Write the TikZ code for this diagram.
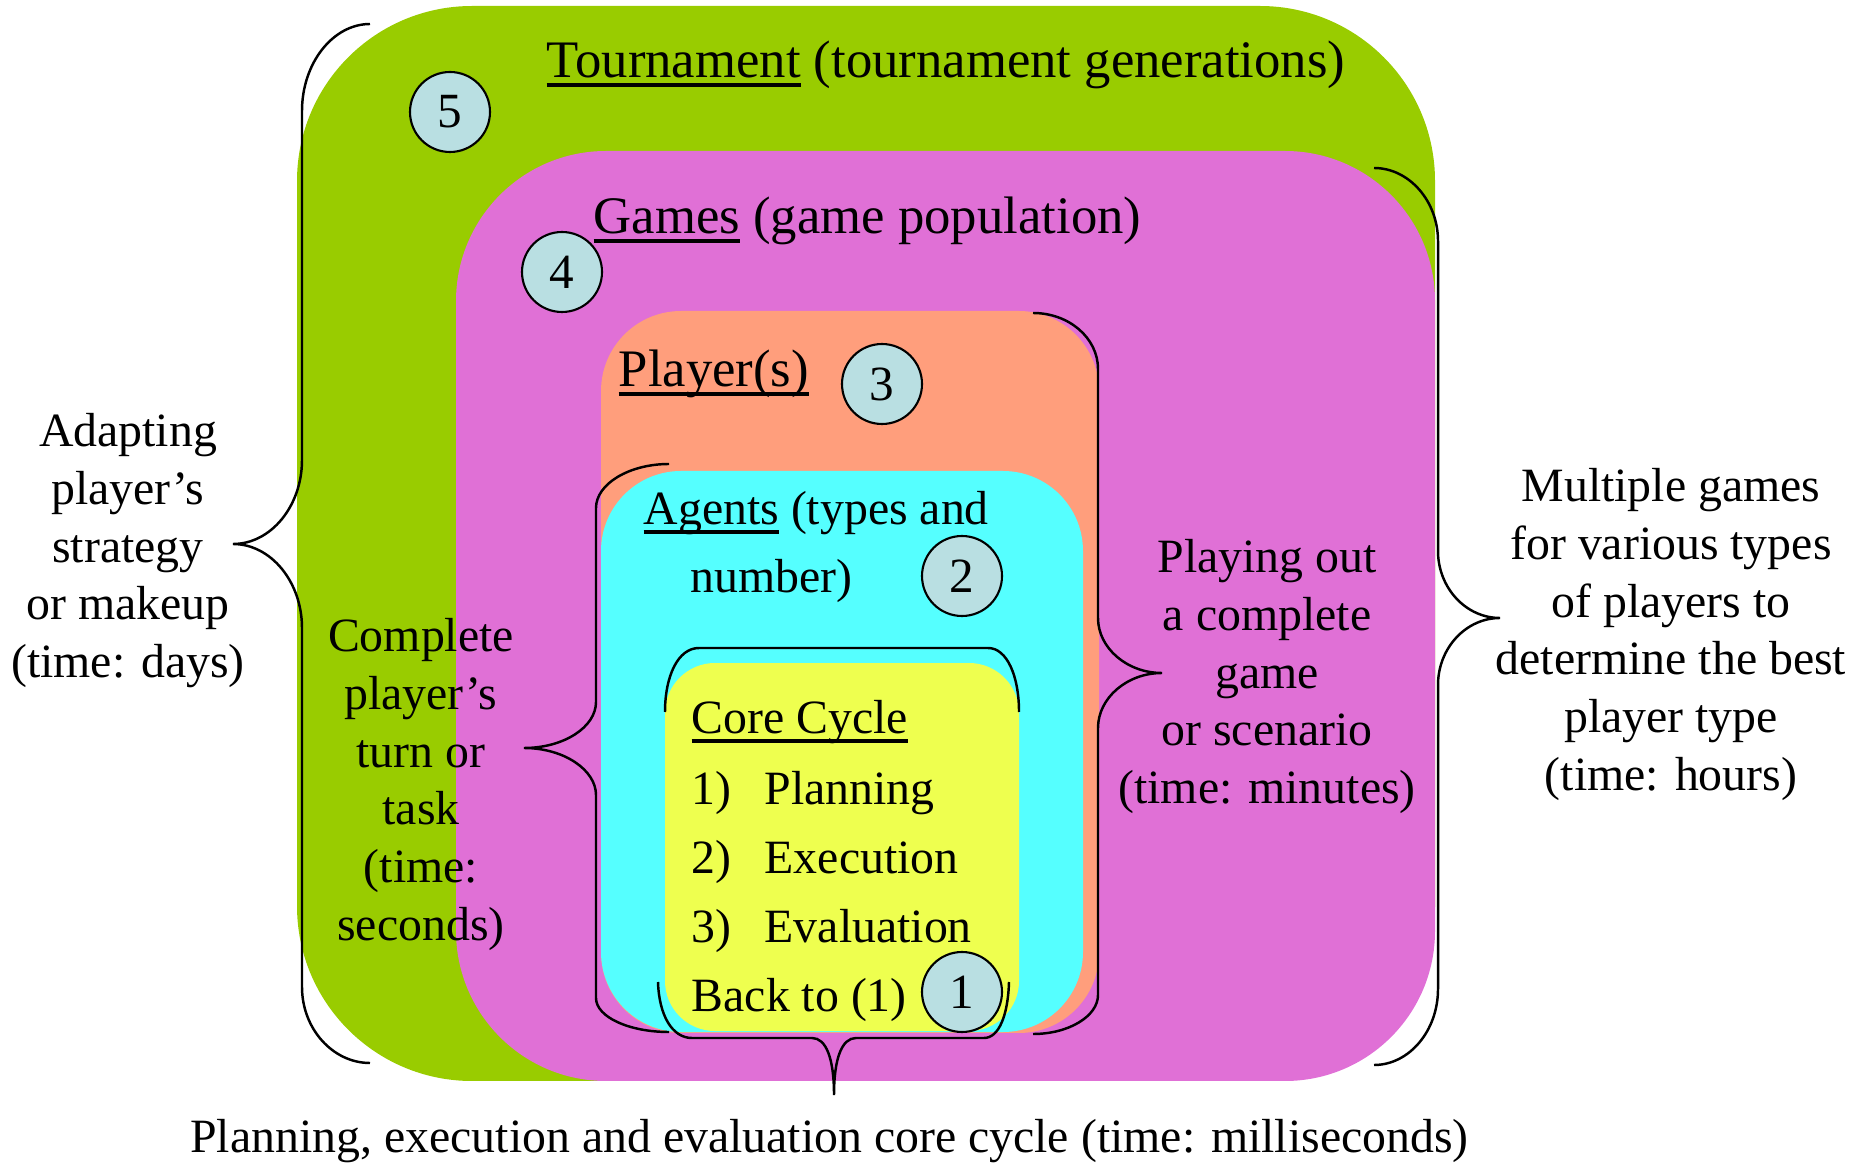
\documentclass[tikz,border=0pt]{standalone}
\usepackage{fontspec}
\setmainfont{Liberation Serif}

\definecolor{tourgreen}{HTML}{99CC00}
\definecolor{gamepink}{HTML}{E070D6}
\definecolor{playersalmon}{HTML}{FF9E7C}
\definecolor{agentcyan}{HTML}{55FFFF}
\definecolor{coreyellow}{HTML}{EEFF4F}
\definecolor{numblue}{HTML}{B9DFE2}

% underline at a fixed depth, crossing descenders
\newsavebox\ulbox
\newcommand\ulword[1]{\sbox\ulbox{#1}\rlap{\rule[-2.6pt]{\wd\ulbox}{1.1pt}}\usebox\ulbox}

\begin{document}
\begin{tikzpicture}[x=0.1mm, y=-0.1mm,
  box/.style={rectangle, draw=none, inner sep=0pt, outer sep=0pt},
  num/.style={circle, draw=black, line width=0.6pt, fill=numblue, minimum size=8mm,
              inner sep=0pt, font=\fontsize{14}{16}\selectfont},
  title/.style={anchor=base west, inner sep=0pt, font=\fontsize{15}{18}\selectfont},
  item/.style={anchor=base west, inner sep=0pt, font=\fontsize{13.6}{16}\selectfont},
  desc/.style={anchor=north, align=center, inner sep=0pt, font=\fontsize{13.6}{16.4}\selectfont},
  bracestroke/.style={draw=black, line width=0.7pt}
]
\useasboundingbox (0,0) rectangle (1866,1163);

% nested levels
\node[box, fill=tourgreen, rounded corners=17.5mm, minimum width=113.8mm, minimum height=107.5mm] (tournament) at (866,543.5) {};
\node[box, fill=gamepink, rounded corners=15mm, minimum width=97.9mm, minimum height=93mm] (games) at (945.5,616) {};
\node[box, fill=playersalmon, rounded corners=8mm, minimum width=49.8mm, minimum height=72.2mm] (players) at (850,672) {};
\node[box, fill=agentcyan, rounded corners=8mm, minimum width=48.2mm, minimum height=56.1mm] (agents) at (842,751.5) {};
\node[box, fill=coreyellow, rounded corners=5mm, minimum width=35.4mm, minimum height=36.8mm] (core) at (842,847) {};

% braces
% days: left of the tournament level
\path[bracestroke] (370,24) .. controls (333,24) and (302,63) .. (302,111) -- (302,460)
  .. controls (302,506) and (271,544) .. (233,544)
  .. controls (271,544) and (302,582) .. (302,628) -- (302,987)
  .. controls (302,1029) and (333,1063) .. (370,1063);
% hours: right of the games level
\path[bracestroke] (1374,168) .. controls (1409,168) and (1438,201) .. (1438,241) -- (1438,551)
  .. controls (1438,588) and (1466,618) .. (1500,618)
  .. controls (1466,618) and (1438,648) .. (1438,685) -- (1438,989)
  .. controls (1438,1031) and (1409,1065) .. (1374,1065);
% minutes: right of the player level
\path[bracestroke] (1033,313) .. controls (1069,313) and (1098,338) .. (1098,369) -- (1098,618)
  .. controls (1098,648) and (1127,673) .. (1162,673)
  .. controls (1127,673) and (1098,698) .. (1098,728) -- (1098,995)
  .. controls (1098,1016) and (1069,1034) .. (1033,1034);
% seconds: left of the agent level
\path[bracestroke] (669,464) .. controls (629,464) and (596,484) .. (596,508) -- (596,702)
  .. controls (596,727) and (564,748) .. (524,748)
  .. controls (564,748) and (596,770) .. (596,795) -- (596,998)
  .. controls (596,1017) and (629,1032) .. (669,1032);
% arch over the core cycle
\path[bracestroke] (665,712) .. controls (665,676) and (678,648) .. (699,648) -- (988,648)
  .. controls (1007,648) and (1019,676) .. (1019,712);
% milliseconds: below the core cycle
\path[bracestroke] (658,982) .. controls (659,1015) and (672,1038) .. (692,1038) -- (812,1038)
  .. controls (826,1038) and (834,1058) .. (834,1095)
  .. controls (834,1058) and (842,1038) .. (856,1038) -- (984,1038)
  .. controls (999,1038) and (1008,1015) .. (1009,982);

% level numbers
\node[num] (n5) at (450,112) {5};
\node[num] (n4) at (562,272) {4};
\node[num] (n3) at (882,384) {3};
\node[num] (n2) at (962,576) {2};
\node[num] (n1) at (962,992) {1};

% level titles
\node[title] (ttour) at (546,78) {\ulword{Tournament} (tournament generations)};
\node[title] (tgames) at (593,234) {\ulword{Games} (game population)};
\node[title] (tplayer) at (618,387) {\ulword{Player(s)}};
\node[item] (tagent1) at (643,525) {\ulword{Agents} (types and};
\node[item] (tagent2) at (690,593) {number)};

% core cycle list
\node[item] (tcore) at (691,734) {\ulword{Core Cycle}};
\node[item] (k1) at (691,805) {1)};
\node[item] (s1) at (764,805) {Planning};
\node[item] (k2) at (691,873) {2)};
\node[item] (s2) at (764,873) {Execution};
\node[item] (k3) at (691,942) {3)};
\node[item] (s3) at (764,942) {Evaluation};
\node[item] (kback) at (691,1011) {Back to (1)};

% time scale descriptions
\node[desc] (ddays) at (128,413) {Adapting\\player’s\\strategy\\or makeup\\(time: days)};
\node[desc] (dsec) at (421,618) {Complete\\player’s\\turn or\\task\\(time:\\seconds)};
\node[desc] (dmin) at (1267,539) {Playing out\\a complete\\game\\or scenario\\(time: minutes)};
\node[desc] (dhours) at (1671,468) {Multiple games\\for various types\\of players to\\determine the best\\player type\\(time: hours)};
\node[item, anchor=base] (dms) at (829.5,1152) {Planning, execution and evaluation core cycle (time: milliseconds)};
\end{tikzpicture}
\end{document}
